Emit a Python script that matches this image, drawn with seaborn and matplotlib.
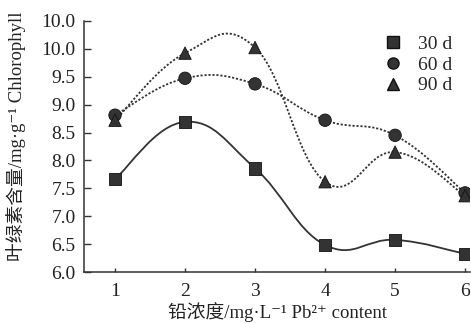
import numpy as np
import pandas as pd
import matplotlib
matplotlib.use("Agg")
import matplotlib.pyplot as plt
from matplotlib.path import Path
from matplotlib.patches import PathPatch
from matplotlib.lines import Line2D
import seaborn as sns

# ---- data ----
pb_levels = [1, 2, 3, 4, 5, 6]
series_names = ["30 d", "60 d", "90 d"]
chl_30d = [7.67, 8.69, 7.86, 6.49, 6.58, 6.33]
chl_60d = [8.81, 9.47, 9.37, 8.72, 8.45, 7.42]
chl_90d = [8.72, 9.92, 10.02, 7.62, 8.15, 7.37]
ytick_values = [6.0, 6.5, 7.0, 7.5, 8.0, 8.5, 9.0, 9.5, 10.0, 10.5]
ytick_labels = ["6.0", "6.5", "7.0", "7.5", "8.0", "8.5", "9.0", "9.5", "10.0", "10.0"]

sns.set_style("ticks")
plt.rcParams["font.family"] = ["Liberation Serif", "Noto Sans CJK SC", "DejaVu Serif"]
plt.rcParams["axes.unicode_minus"] = False

df = pd.DataFrame({
    "x": pb_levels * 3,
    "y": chl_30d + chl_60d + chl_90d,
    "series": [s for s in series_names for _ in pb_levels],
})

fig = plt.figure(figsize=(4.71, 3.23), dpi=100)
ax = fig.add_axes([84 / 471, 1 - 272.3 / 323, (470 - 84) / 471, (272.3 - 20.7) / 323])

dark = "#333333"
styles = {"30 d": "-", "60 d": (0, (1.2, 1.0)), "90 d": (0, (1.2, 1.0))}


def smooth_path(xs, ys, t=1.25):
    pts = np.column_stack([xs, ys]).astype(float)
    n = len(pts)
    verts = [pts[0]]
    codes = [Path.MOVETO]
    for i in range(n - 1):
        p0 = pts[i - 1] if i > 0 else pts[i]
        p1 = pts[i]
        p2 = pts[i + 1]
        p3 = pts[i + 2] if i + 2 < n else pts[i + 1]
        c1 = p1 + (p2 - p0) / 6 * t
        c2 = p2 - (p3 - p1) / 6 * t
        verts += [c1, c2, p2]
        codes += [Path.CURVE4] * 3
    return Path(verts, codes)


for name in series_names:
    sub = df[df["series"] == name]
    patch = PathPatch(smooth_path(sub["x"].values, sub["y"].values),
                      facecolor="none", edgecolor=dark, lw=1.3,
                      linestyle=styles[name], zorder=2)
    ax.add_patch(patch)

markers = {"30 d": "s", "60 d": "o", "90 d": "^"}
sns.scatterplot(data=df, x="x", y="y", style="series", markers=markers,
                color=dark, edgecolor="#111111", linewidth=0.6, s=80,
                legend=False, ax=ax, zorder=3)

ax.set_xlim(0.557, 6.07)
ax.set_ylim(6.0, 10.5)
ax.set_xticks(pb_levels)
ax.set_xticklabels([str(v) for v in pb_levels])
ax.set_yticks(ytick_values)
ax.set_yticklabels(ytick_labels)
ax.tick_params(axis="y", direction="in", length=5, width=1.0, color=dark,
               labelsize=14, labelcolor="#222222", pad=6)
ax.tick_params(axis="x", direction="in", length=3, width=1.0, color=dark,
               labelsize=14, labelcolor="#222222", pad=8)
for side in ["top", "right"]:
    ax.spines[side].set_visible(False)
for side in ["left", "bottom"]:
    ax.spines[side].set_color(dark)
    ax.spines[side].set_linewidth(1.1)

ax.set_xlabel("铅浓度/mg·L⁻¹ Pb²⁺ content", fontsize=13.5, color="#222222", labelpad=1)
ax.set_ylabel("叶绿素含量/mg·g⁻¹ Chlorophyll", fontsize=13.5, color="#222222")
ax.yaxis.set_label_coords(-0.15, 0.54)

handles = [Line2D([], [], linestyle="none", marker=markers[n], color=dark,
                  markeredgecolor="#111111", markersize=8) for n in series_names]
ax.legend(handles, series_names, loc="upper right", bbox_to_anchor=(1.0, 1.01),
          frameon=False, fontsize=14, handletextpad=0.3, labelspacing=0.15,
          borderaxespad=0.5)

fig.savefig("out.png", dpi=100)
